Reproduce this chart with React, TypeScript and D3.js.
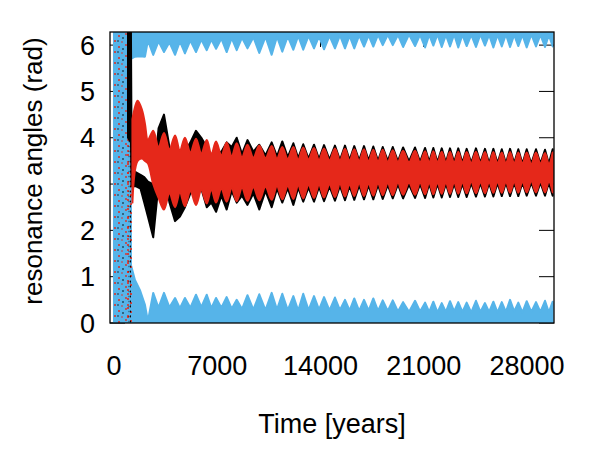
import React from "react";
import * as d3 from "d3";

const TAU = 2 * Math.PI;

// fast libration cycles: trough time before each crest, and the crest (years)
const troughYears = [2300, 3020, 3760, 4470, 5180, 5920, 6600, 7280, 7980, 8680, 9450, 10270, 11050, 11780, 12490, 13190, 13900, 14610, 15320, 15970, 16620, 17260, 17900, 18560, 19250, 20000, 20750, 21370, 21930, 22500, 23060, 23620, 24220, 24840, 25430, 26000, 26570, 27130, 27690, 28290, 28910, 29480];
const crestYears = [2660, 3390, 4140, 4810, 5560, 6290, 6920, 7640, 8320, 9050, 9850, 10690, 11410, 12160, 12830, 13560, 14240, 14980, 15660, 16290, 16950, 17580, 18220, 18900, 19600, 20410, 21090, 21650, 22220, 22780, 23340, 23910, 24540, 25150, 25720, 26290, 26850, 27410, 27980, 28610, 29220, 29740];

// light blue angle, lower branch (near 0)
const blueLowPeak = [0.65, 0.65, 0.54, 0.54, 0.61, 0.61, 0.54, 0.56, 0.50, 0.60, 0.62, 0.65, 0.63, 0.58, 0.63, 0.58, 0.56, 0.55, 0.50, 0.53, 0.50, 0.53, 0.49, 0.49, 0.45, 0.48, 0.44, 0.46, 0.43, 0.47, 0.45, 0.44, 0.48, 0.43, 0.46, 0.45, 0.50, 0.44, 0.47, 0.45, 0.48, 0.46];
const blueLowFloor = [0.04, 0.33, 0.34, 0.32, 0.33, 0.34, 0.32, 0.33, 0.31, 0.30, 0.29, 0.28, 0.29, 0.28, 0.27, 0.28, 0.29, 0.27, 0.28, 0.27, 0.26, 0.27, 0.26, 0.26, 0.25, 0.24, 0.25, 0.24, 0.23, 0.24, 0.25, 0.24, 0.23, 0.24, 0.24, 0.23, 0.24, 0.25, 0.23, 0.24, 0.24, 0.23];
// light blue angle, upper branch (wrapped below 2π)
const blueHighTip = [5.79, 5.85, 5.79, 5.82, 5.85, 5.89, 5.92, 5.85, 5.89, 5.93, 5.83, 5.79, 5.86, 5.90, 5.90, 5.93, 5.91, 5.93, 5.93, 5.93, 5.97, 5.97, 6.00, 6.00, 5.96, 5.98, 5.95, 5.99, 5.96, 5.97, 5.95, 5.98, 5.96, 5.99, 5.95, 5.97, 5.96, 5.98, 5.95, 5.97, 5.96, 5.97];
const blueHighEdge = [6.10, 6.08, 6.06, 6.08, 6.10, 6.12, 6.12, 6.14, 6.15, 6.16, 6.17, 6.18, 6.18, 6.19, 6.20, 6.20, 6.19, 6.20, 6.21, 6.20, 6.21, 6.21, 6.22, 6.22, 6.22, 6.23, 6.22, 6.22, 6.23, 6.22, 6.23, 6.22, 6.22, 6.23, 6.22, 6.22, 6.23, 6.22, 6.22, 6.23, 6.22, 6.22];

// red angle
const redTopCrest = [4.15, 4.10, 4.05, 4.00, 3.98, 3.95, 3.92, 3.90, 3.88, 3.85, 3.83, 3.82, 3.80, 3.80, 3.79, 3.78, 3.77, 3.77, 3.76, 3.75, 3.75, 3.74, 3.74, 3.73, 3.72, 3.72, 3.71, 3.71, 3.70, 3.70, 3.70, 3.69, 3.70, 3.69, 3.69, 3.68, 3.69, 3.68, 3.68, 3.68, 3.67, 3.68];
const redTopTrough = [3.95, 3.80, 3.75, 3.72, 3.68, 3.66, 3.64, 3.62, 3.60, 3.58, 3.57, 3.56, 3.55, 3.54, 3.53, 3.53, 3.52, 3.51, 3.51, 3.50, 3.50, 3.49, 3.49, 3.48, 3.48, 3.47, 3.47, 3.46, 3.46, 3.46, 3.45, 3.45, 3.45, 3.45, 3.44, 3.44, 3.44, 3.44, 3.43, 3.43, 3.43, 3.43];
const redBottomCrest = [3.00, 2.45, 2.50, 2.52, 2.55, 2.58, 2.60, 2.62, 2.63, 2.64, 2.65, 2.66, 2.67, 2.68, 2.69, 2.70, 2.71, 2.72, 2.73, 2.74, 2.74, 2.75, 2.76, 2.76, 2.77, 2.77, 2.78, 2.78, 2.79, 2.79, 2.79, 2.80, 2.80, 2.80, 2.81, 2.81, 2.81, 2.81, 2.82, 2.82, 2.82, 2.82];
const redBottomTrough = [3.45, 2.70, 2.80, 2.82, 2.85, 2.87, 2.89, 2.90, 2.91, 2.92, 2.93, 2.94, 2.95, 2.96, 2.97, 2.98, 2.98, 2.99, 3.00, 3.00, 3.01, 3.01, 3.02, 3.02, 3.03, 3.03, 3.03, 3.04, 3.04, 3.04, 3.05, 3.05, 3.05, 3.05, 3.05, 3.06, 3.06, 3.06, 3.06, 3.06, 3.06, 3.06];

// black angle
const blackTopCrest = [3.00, 4.50, 3.50, 3.70, 4.15, 3.80, 3.70, 3.90, 4.00, 3.95, 3.85, 3.90, 3.92, 3.88, 3.86, 3.85, 3.84, 3.83, 3.83, 3.82, 3.82, 3.81, 3.80, 3.80, 3.79, 3.79, 3.78, 3.78, 3.77, 3.77, 3.77, 3.76, 3.77, 3.76, 3.76, 3.75, 3.76, 3.75, 3.75, 3.75, 3.74, 3.75];
const blackTopTrough = [3.05, 4.20, 3.80, 3.30, 3.90, 4.00, 3.55, 3.70, 3.80, 3.65, 3.70, 3.62, 3.60, 3.58, 3.56, 3.55, 3.54, 3.53, 3.52, 3.52, 3.51, 3.51, 3.50, 3.50, 3.49, 3.49, 3.48, 3.48, 3.47, 3.47, 3.47, 3.46, 3.46, 3.46, 3.45, 3.45, 3.45, 3.45, 3.44, 3.44, 3.44, 3.44];
const blackBottomCrest = [1.85, 3.30, 2.20, 2.50, 2.85, 2.50, 2.40, 2.45, 2.60, 2.55, 2.45, 2.50, 2.60, 2.55, 2.62, 2.62, 2.63, 2.64, 2.65, 2.66, 2.67, 2.67, 2.68, 2.69, 2.69, 2.70, 2.70, 2.71, 2.71, 2.72, 2.72, 2.72, 2.73, 2.73, 2.73, 2.74, 2.74, 2.74, 2.75, 2.75, 2.75, 2.75];
const blackBottomTrough = [2.30, 3.00, 2.60, 2.30, 2.80, 2.90, 2.60, 2.75, 2.85, 2.75, 2.80, 2.85, 2.90, 2.91, 2.92, 2.93, 2.94, 2.95, 2.96, 2.96, 2.97, 2.97, 2.98, 2.98, 2.99, 2.99, 3.00, 3.00, 3.00, 3.01, 3.01, 3.01, 3.02, 3.02, 3.02, 3.02, 3.03, 3.03, 3.03, 3.03, 3.03, 3.03];

// capture phase, before the regular cycles
const chaosEnd = 1150;
const redDenseYears = [770, 1250];
const blackColumnYears = [950, 1150];
const blueEarlyYears = [1150, 1420, 1760, 2100];
const blueEarlyLow = [1.25, 0.93, 0.71, 0.39];
const blueEarlyHigh = [5.70, 5.75, 5.76, 5.75];
const redEarlyYears = [1250, 1600, 1900, 2100];
const redEarlyTop = [4.40, 4.80, 4.60, 4.30];
const redEarlyBottom = [2.60, 3.50, 3.55, 3.50];
const blackEarlyYears = [950, 1150, 1200, 1500, 1800, 2050];
const blackEarlyTop = [TAU, TAU, 3.30, 3.25, 3.20, 3.15];
const blackEarlyBottom = [4.00, 3.90, 2.95, 2.95, 2.90, 2.60];

const xTicks = [0, 7000, 14000, 21000, 28000];
const yTicks = [0, 1, 2, 3, 4, 5, 6];

type Row = { t: number; hi: number; lo: number };

function cycleRows(topCrest: number[], topTrough: number[], botCrest: number[], botTrough: number[]): Row[] {
  const rows: Row[] = [];
  crestYears.forEach((c, i) => {
    rows.push({ t: troughYears[i], hi: topTrough[i], lo: botTrough[i] });
    rows.push({ t: c, hi: topCrest[i], lo: botCrest[i] });
  });
  return rows;
}

function earlyRows(years: number[], hi: number[], lo: number[]): Row[] {
  return years.map((t, i) => ({ t, hi: hi[i], lo: lo[i] }));
}

const W = 600, H = 450;
const left = 110, right = 554, top = 32, bottom = 323;

const BLUE = "#56b4e9";
const RED = "#e5281a";
const FONT = "'Liberation Sans', Arial, sans-serif";

export default function App() {
  const x = d3.scaleLinear().domain([-270, 29830]).range([left, right]);
  const y = d3.scaleLinear().domain([0, TAU]).range([bottom, top]);
  const sharp = d3.area<Row>().x(d => x(d.t)).y0(d => y(d.lo)).y1(d => y(d.hi));
  const smooth = d3.area<Row>().x(d => x(d.t)).y0(d => y(d.lo)).y1(d => y(d.hi)).curve(d3.curveCatmullRom.alpha(0.5));

  const n = crestYears.length;
  const fill = (len: number, v: number) => new Array(len).fill(v);

  const blueChaos = earlyRows([0, chaosEnd], [TAU, TAU], [0, 0]);
  const redDense = earlyRows(redDenseYears, [TAU, TAU], [0, 0]);
  const blackColumn = earlyRows(blackColumnYears, [4, 4], [0, 0]);
  const blueLow = [
    ...earlyRows(blueEarlyYears, blueEarlyLow, fill(blueEarlyYears.length, 0)),
    ...cycleRows(blueLowPeak, blueLowFloor, fill(n, 0), fill(n, 0)),
  ];
  const blueHigh = [
    ...earlyRows(blueEarlyYears, fill(blueEarlyYears.length, TAU), blueEarlyHigh),
    ...cycleRows(fill(n, TAU), fill(n, TAU), blueHighTip, blueHighEdge),
  ];
  const black = [
    ...earlyRows(blackEarlyYears, blackEarlyTop, blackEarlyBottom),
    ...cycleRows(blackTopCrest, blackTopTrough, blackBottomCrest, blackBottomTrough),
  ];
  const red = [
    ...earlyRows(redEarlyYears, redEarlyTop, redEarlyBottom),
    ...cycleRows(redTopCrest, redTopTrough, redBottomCrest, redBottomTrough),
  ];

  const band = (gen: d3.Area<Row>, rows: Row[], color: string) => (
    <path d={gen(rows) ?? ""} fill={color} stroke={color} strokeWidth={2} strokeLinejoin="round" />
  );

  return (
    <svg width={W} height={H} style={{ position: "absolute", left: 0, top: 0 }}>
      <defs>
        <clipPath id="plot">
          <rect x={left} y={top} width={right - left} height={bottom - top} />
        </clipPath>
        <pattern id="chaos" width={13} height={11} patternUnits="userSpaceOnUse">
          <circle cx={2} cy={3} r={1} fill={RED} />
          <circle cx={9} cy={1} r={0.9} fill={RED} />
          <circle cx={11} cy={8} r={1} fill={RED} />
          <circle cx={5} cy={9} r={0.8} fill={RED} />
          <circle cx={6} cy={5} r={0.8} fill="#000" />
          <circle cx={1} cy={8} r={0.7} fill="#000" />
        </pattern>
        <pattern id="chaosRed" width={7} height={9} patternUnits="userSpaceOnUse">
          <circle cx={2} cy={2} r={1.1} fill={RED} />
          <circle cx={5} cy={6} r={1.1} fill={RED} />
        </pattern>
        <pattern id="chaosBlack" width={3} height={5} patternUnits="userSpaceOnUse">
          <circle cx={1.5} cy={1.5} r={0.9} fill="#000" />
        </pattern>
      </defs>

      {/* ticks sit behind the points */}
      <g stroke="#000" strokeWidth={1}>
        {yTicks.map(v => (
          <g key={v}>
            <line x1={left} x2={left + 15} y1={y(v)} y2={y(v)} />
            <line x1={right - 15} x2={right} y1={y(v)} y2={y(v)} />
          </g>
        ))}
        {xTicks.map(v => (
          <g key={v}>
            <line x1={x(v)} x2={x(v)} y1={bottom} y2={bottom - 15} />
            <line x1={x(v)} x2={x(v)} y1={top} y2={top + 15} />
          </g>
        ))}
      </g>

      <g clipPath="url(#plot)">
        {band(sharp, blueChaos, BLUE)}
        {band(sharp, blueLow, BLUE)}
        {band(sharp, blueHigh, BLUE)}
        <path d={sharp(blueChaos) ?? ""} fill="url(#chaos)" />
        <path d={sharp(redDense) ?? ""} fill="url(#chaosRed)" />
        <path d={sharp(blackColumn) ?? ""} fill="url(#chaosBlack)" />
        {band(sharp, black, "#000")}
        {band(smooth, red, RED)}
      </g>

      <rect x={left} y={top} width={right - left} height={bottom - top} fill="none" stroke="#000" strokeWidth={1.3} />

      <g fontFamily={FONT} fill="#000">
        {yTicks.map(v => (
          <text key={v} x={95} y={y(v)} dy="0.36em" textAnchor="end" fontSize={27}>{v}</text>
        ))}
        {xTicks.map(v => (
          <text key={v} x={x(v)} y={375} textAnchor="middle" fontSize={27}>{v}</text>
        ))}
        <text x={332} y={433} textAnchor="middle" fontSize={27}>Time [years]</text>
        <text transform="translate(42,171) rotate(-90)" textAnchor="middle" fontSize={26}>resonance angles (rad)</text>
      </g>
    </svg>
  );
}
